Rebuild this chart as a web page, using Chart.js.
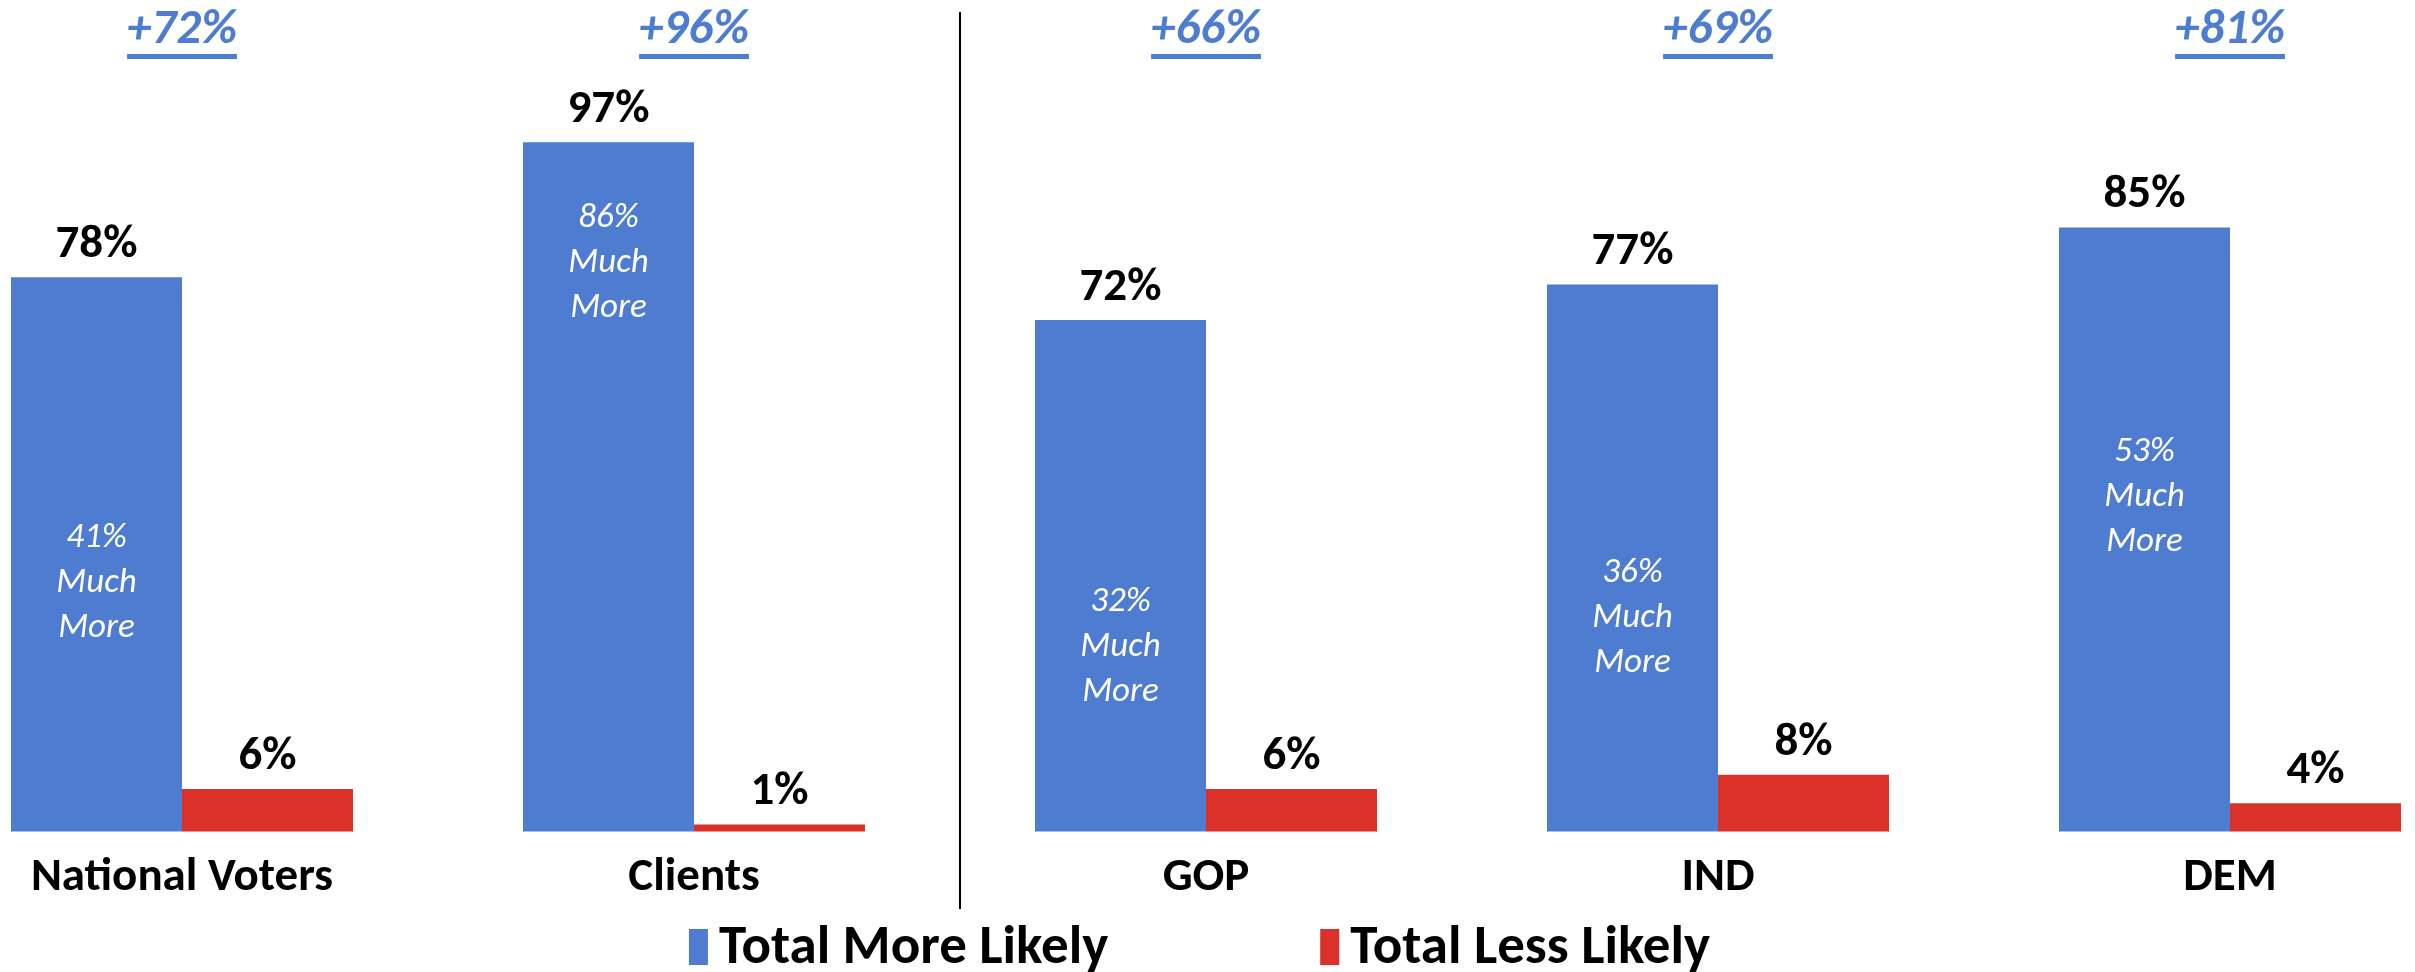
<!DOCTYPE html>
<html lang="en">
<head>
<meta charset="UTF-8">
<title>Total More / Less Likely</title>
<script src="https://cdn.jsdelivr.net/npm/chart.js"></script>
<style>
  html, body { margin: 0; padding: 0; background: #fff; }
  #wrap { width: 2415px; height: 972px; }
</style>
</head>
<body>
<div id="wrap"><canvas id="chart"></canvas></div>
<script>
const categories = ["National Voters", "Clients", "GOP", "IND", "DEM"];
const totalMore = [78, 97, 72, 77, 85];
const totalLess = [6, 1, 6, 8, 4];
const muchMore = [41, 86, 32, 36, 53];
const netLabels = ["+72%", "+96%", "+66%", "+69%", "+81%"];
const seriesNames = ["Total More Likely", "Total Less Likely"];

const FONT = 'Carlito, "Liberation Sans Narrow", "Open Sans", sans-serif';
const BLUE = "#4e7cd0";
const RED = "#dc3128";

// labels, notes, net scores, divider and legend drawn on top of the bars
const annotate = {
    id: "annotate",
    afterDatasetsDraw(chart) {
        const ctx = chart.ctx;
        const xs = chart.scales.x, ys = chart.scales.y;
        const more = chart.getDatasetMeta(0).data;
        const less = chart.getDatasetMeta(1).data;
        ctx.save();
        ctx.textAlign = "center";
        ctx.textBaseline = "middle";

        ctx.fillStyle = "#000";
        ctx.font = "bold 47px " + FONT;
        more.forEach((bar, i) => ctx.fillText(totalMore[i] + "%", bar.x, bar.y - 32));
        less.forEach((bar, i) => ctx.fillText(totalLess[i] + "%", bar.x, bar.y - 32));

        ctx.fillStyle = "#fff";
        ctx.font = "italic 35px " + FONT;
        more.forEach((bar, i) => {
            const cy = ys.getPixelForValue(muchMore[i] - 6);
            [muchMore[i] + "%", "Much", "More"].forEach((t, k) => ctx.fillText(t, bar.x, cy + (k - 1) * 45));
        });

        ctx.fillStyle = BLUE;
        ctx.font = "italic bold 49px " + FONT;
        netLabels.forEach((t, i) => {
            const cx = xs.getPixelForValue(i);
            ctx.fillText(t, cx, 31);
            const w = ctx.measureText(t).width;
            ctx.fillRect(cx - w / 2, 54, w, 5);
        });

        // divider between the overall groups and party groups
        const dx = xs.getPixelForValue(1.52);
        ctx.fillStyle = "#000";
        ctx.fillRect(Math.round(dx) - 1, 12, 2, 897);

        // legend
        ctx.font = "bold 55px " + FONT;
        ctx.textAlign = "left";
        const colors = [BLUE, RED];
        const boxW = 19, boxH = 36, gap = 11, itemGap = 212;
        const widths = seriesNames.map(s => boxW + gap + ctx.measureText(s).width);
        let lx = (chart.width - (widths[0] + widths[1] + itemGap)) / 2 - 8;
        const ly = 947;
        seriesNames.forEach((s, i) => {
            ctx.fillStyle = colors[i];
            ctx.fillRect(lx, ly - boxH / 2, boxW, boxH);
            ctx.fillStyle = "#000";
            ctx.fillText(s, lx + boxW + gap, ly + 2);
            lx += widths[i] + itemGap;
        });
        ctx.restore();
    }
};

new Chart(document.getElementById("chart"), {
    type: "bar",
    data: {
        labels: categories,
        datasets: [
            { label: seriesNames[0], data: totalMore, backgroundColor: BLUE, clip: false },
            { label: seriesNames[1], data: totalLess, backgroundColor: RED, clip: false }
        ]
    },
    options: {
        responsive: true,
        maintainAspectRatio: false,
        animation: false,
        categoryPercentage: 0.668,
        barPercentage: 1.0,
        layout: { padding: { left: 182, right: 185, top: 121, bottom: 48 } },
        plugins: {
            legend: { display: false },
            tooltip: { enabled: false }
        },
        scales: {
            x: {
                offset: false,
                grid: { display: false, drawTicks: false },
                border: { display: false },
                ticks: {
                    color: "#000",
                    padding: 18,
                    maxRotation: 0,
                    autoSkip: false,
                    font: { family: FONT, size: 47, weight: "bold" }
                }
            },
            y: {
                display: false,
                min: 0,
                max: 100
            }
        }
    },
    plugins: [annotate]
});
</script>
</body>
</html>
